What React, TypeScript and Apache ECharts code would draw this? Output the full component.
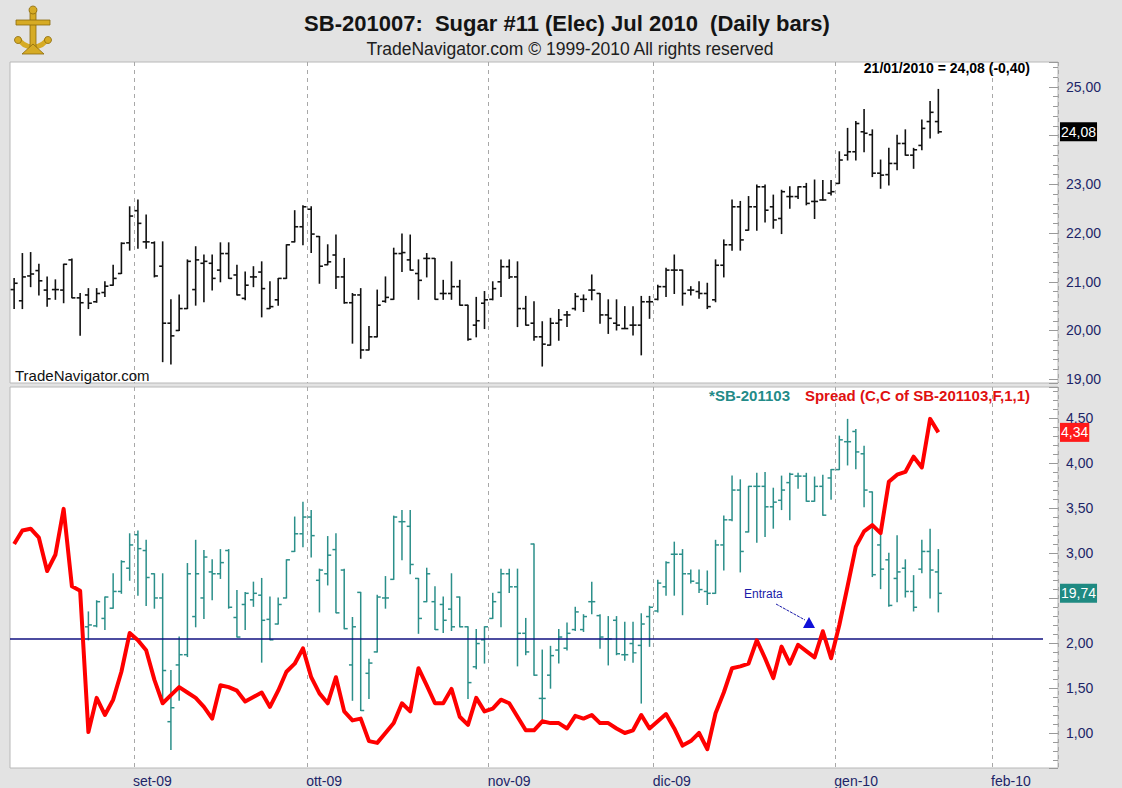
import React, { useEffect, useRef } from "react";
import * as echarts from "echarts";

const FONT = "'Liberation Sans', Arial, sans-serif";

// ---- categories (trading days) ----
const FIRST_DAY = "2009-08-11";
const LAST_DAY = "2010-02-10";
const HOLIDAYS = ["2009-09-07", "2009-11-26", "2009-12-25", "2010-01-01", "2010-01-18"];
const MONTHS_IT = ["gen", "feb", "mar", "apr", "mag", "giu", "lug", "ago", "set", "ott", "nov", "dic"];

function tradingDays(): string[] {
  const out: string[] = [];
  const d = new Date(FIRST_DAY + "T12:00:00Z");
  const end = new Date(LAST_DAY + "T12:00:00Z");
  while (d <= end) {
    const wd = d.getUTCDay();
    const s = d.toISOString().slice(0, 10);
    if (wd !== 0 && wd !== 6 && HOLIDAYS.indexOf(s) < 0) out.push(s);
    d.setUTCDate(d.getUTCDate() + 1);
  }
  return out;
}
const DATES = tradingDays();

// ---- SB-201007 daily bars (index 0 = 11/08/2009) ----
const TOP_O = [20.84,20.61,21.12,21.23,20.83,20.84,20.83,21.45,20.67,20.73,20.59,20.78,20.93,21.17,21.80,22.46,21.82,21.80,21.32,20.15,20.00,20.45,20.84,21.38,21.38,21.24,21.58,21.14,20.66,21.10,21.20,20.45,20.63,21.07,21.82,22.13,22.49,21.93,21.35,21.55,21.10,20.57,20.73,19.60,19.87,20.60,20.64,21.58,21.45,21.17,21.48,21.48,20.76,20.76,20.90,20.52,20.11,20.56,20.64,21.00,21.31,21.10,20.45,20.15,19.87,19.70,20.15,20.32,20.45,20.64,20.83,20.76,20.32,20.15,20.04,20.11,20.11,20.59,20.64,20.90,21.24,21.24,20.83,20.80,20.76,20.63,21.34,21.76,22.54,22.06,22.54,22.95,22.54,22.30,22.75,22.75,22.95,22.65,22.68,22.82,23.02,23.60,23.67,24.08,24.02,23.23,23.20,23.43,23.84,23.60,23.80,24.29,24.29];
const TOP_H = [21.07,21.58,21.60,21.36,21.10,21.04,21.36,21.47,20.76,20.86,20.86,21.00,21.34,21.80,22.54,22.68,22.37,21.82,21.82,20.63,20.73,21.45,21.72,21.55,21.55,21.80,21.80,21.34,21.20,21.31,21.41,21.00,21.07,21.76,22.46,22.56,22.54,21.93,21.76,21.96,21.48,20.76,20.86,20.08,20.83,21.10,21.69,21.98,21.96,21.45,21.58,21.48,21.03,21.41,21.03,20.52,20.68,20.80,21.00,21.45,21.45,21.41,20.70,20.59,20.18,20.25,20.43,20.39,20.76,20.73,21.14,20.76,20.63,20.63,20.49,20.49,20.70,20.70,20.93,21.28,21.55,21.24,20.90,21.00,20.97,21.45,21.86,22.68,22.65,22.75,22.99,22.99,22.78,22.88,22.95,22.95,23.02,23.09,23.08,23.08,23.67,24.15,24.29,24.54,24.12,23.50,23.74,24.01,24.12,23.74,24.32,24.70,24.95];
const TOP_L = [20.45,20.45,20.90,20.73,20.50,20.64,20.57,20.67,19.90,20.45,20.58,20.70,20.93,21.17,21.65,21.69,21.69,21.10,19.36,19.31,20.00,20.45,20.52,20.59,20.83,21.00,21.07,20.73,20.63,20.90,20.28,20.45,20.52,21.07,21.82,21.76,21.60,20.97,21.35,20.86,20.56,19.74,19.43,19.60,19.87,20.58,20.64,21.21,21.24,20.64,21.10,20.64,20.64,20.64,20.52,19.80,19.87,20.04,20.63,20.70,21.07,20.08,20.11,19.80,19.27,19.70,19.80,20.08,20.42,20.39,20.63,20.15,19.94,20.01,20.04,19.91,19.50,20.25,20.63,20.70,20.76,20.52,20.73,20.66,20.45,20.59,21.10,21.65,21.65,22.06,22.06,22.23,22.10,21.99,22.51,22.71,22.58,22.30,22.68,22.78,23.02,23.50,23.50,23.67,23.16,22.92,22.99,23.30,23.60,23.33,23.71,23.95,24.05];
const TOP_C = [20.97,21.10,21.16,21.02,20.65,20.84,21.36,20.67,20.57,20.56,20.76,20.91,21.07,21.79,22.35,22.20,21.82,21.12,20.15,19.89,20.45,21.42,21.45,21.42,21.07,21.58,21.07,20.73,20.93,21.10,20.86,20.49,21.07,21.76,22.13,22.54,21.98,21.32,21.41,21.10,20.57,20.73,19.60,19.87,20.52,20.68,21.58,21.60,21.24,21.03,21.48,20.64,20.76,20.90,20.52,19.82,20.20,20.63,20.86,21.31,21.10,20.45,20.11,19.87,19.72,20.15,20.22,20.32,20.70,20.64,20.83,20.32,20.25,20.11,20.04,20.11,20.59,20.59,20.90,21.24,21.24,20.76,20.83,20.76,20.49,21.34,21.76,22.54,21.86,22.54,22.95,22.47,22.27,22.85,22.75,22.95,22.61,22.65,22.68,22.85,23.50,23.67,24.25,24.05,23.23,23.19,23.43,23.84,23.60,23.71,24.15,24.48,24.08];

// ---- SB-201103 daily bars (start at index 9) ----
const TEAL_START = 9;
const TEAL_O = [19.38,19.39,19.47,19.58,19.76,20.01,20.37,20.20,19.95,19.69,18.36,18.97,19.08,19.49,19.69,19.97,19.95,20.20,19.48,19.62,19.67,19.72,19.46,19.41,19.69,20.19,20.38,20.56,19.88,19.95,20.21,19.99,18.97,19.75,18.88,19.11,19.69,19.89,20.51,20.46,19.90,19.65,19.65,19.62,19.57,19.70,19.38,18.95,19.24,19.47,19.75,19.95,19.81,19.31,20.27,18.61,18.86,19.13,19.15,19.35,19.35,19.65,19.50,19.25,19.45,19.08,19.20,19.18,19.49,19.55,19.81,20.16,20.16,19.95,19.85,19.76,19.74,20.26,20.53,20.85,20.40,20.89,20.89,20.67,20.74,20.93,21.00,21.00,20.73,20.89,20.98,21.07,21.37,21.48,21.24,20.83,20.26,20.10,19.90,20.01,19.76,20.00,20.19,19.97];
const TEAL_H = [19.54,19.66,19.70,19.95,20.09,20.38,20.41,20.31,19.95,19.95,18.91,19.27,20.06,20.31,20.20,20.10,20.21,20.21,19.77,19.75,19.86,19.90,19.70,19.69,20.10,20.56,20.72,20.63,20.00,20.35,20.38,20.00,19.48,19.75,19.03,19.72,19.92,20.57,20.63,20.63,19.90,20.01,19.81,19.70,19.95,19.70,19.38,19.35,19.38,19.74,20.00,20.00,20.00,19.47,20.27,19.13,19.17,19.35,19.42,19.59,19.51,19.86,19.51,19.49,19.49,19.43,19.43,19.52,19.60,19.88,20.08,20.29,20.21,19.99,19.99,19.98,20.31,20.57,21.00,20.96,20.89,21.03,21.04,20.87,21.00,21.03,21.03,21.03,20.99,21.01,21.07,21.43,21.61,21.50,21.32,20.83,20.38,20.17,20.36,20.10,19.93,20.31,20.43,20.21];
const TEAL_L = [19.24,19.38,19.35,19.58,19.74,19.88,19.72,19.61,19.58,18.59,18.06,18.59,19.06,19.38,19.47,19.67,19.90,19.58,19.27,19.35,19.60,19.00,19.24,19.41,19.69,20.19,20.24,20.13,19.54,19.83,19.53,19.36,18.59,18.48,18.61,19.11,19.58,19.89,20.10,19.95,19.31,19.65,19.35,19.32,19.34,19.38,18.61,18.93,18.99,19.47,19.38,19.75,18.96,19.08,18.86,18.36,18.72,18.99,19.13,19.34,19.33,19.52,19.15,18.97,19.08,19.02,19.00,18.56,19.17,19.54,19.72,19.72,19.51,19.85,19.75,19.62,19.74,19.99,20.52,19.97,20.40,20.29,20.35,20.44,20.64,20.53,20.87,20.73,20.73,20.58,20.75,21.07,21.12,21.08,20.67,19.92,19.79,19.60,19.65,19.70,19.55,19.96,19.69,19.54];
const TEAL_C = [19.40,19.65,19.70,19.76,20.08,20.26,20.22,19.91,19.69,18.91,18.51,19.08,19.95,19.95,20.13,19.95,20.07,19.59,19.27,19.74,19.74,19.45,19.24,19.62,20.10,20.38,20.56,20.36,19.99,20.15,19.53,19.36,19.38,18.48,18.99,19.70,19.69,20.56,20.51,20.05,19.47,19.95,19.35,19.45,19.38,19.38,18.78,19.20,19.38,19.65,19.95,19.81,19.31,19.11,18.86,18.61,19.07,19.27,19.31,19.54,19.49,19.65,19.27,19.25,19.09,19.08,19.10,19.41,19.59,19.85,20.07,20.16,19.95,19.87,19.78,19.74,20.26,20.53,20.85,20.19,20.89,20.89,20.67,20.72,20.85,21.02,21.00,20.73,20.89,20.58,21.07,21.39,21.37,21.26,20.85,19.94,20.00,19.61,19.97,19.76,19.59,20.19,19.99,19.74];

// ---- Spread (C - C of SB-201103) ----
const SPREAD = [3.10,3.25,3.27,3.17,2.80,2.98,3.49,2.63,2.58,1.01,1.39,1.20,1.37,1.68,2.11,2.03,1.92,1.59,1.33,1.42,1.51,1.45,1.39,1.29,1.16,1.53,1.51,1.47,1.35,1.40,1.45,1.29,1.47,1.68,1.77,1.94,1.62,1.44,1.33,1.62,1.24,1.14,1.16,0.91,0.89,1.00,1.11,1.33,1.24,1.72,1.53,1.33,1.33,1.49,1.18,1.09,1.39,1.24,1.27,1.37,1.33,1.18,1.03,1.03,1.13,1.11,1.11,1.05,1.19,1.16,1.20,1.11,1.11,1.05,1.00,1.03,1.20,1.05,1.13,1.21,1.05,0.86,0.91,1.00,0.82,1.22,1.45,1.72,1.74,1.77,2.03,1.83,1.61,1.96,1.77,1.98,1.91,1.84,2.13,1.83,2.20,2.63,3.07,3.24,3.31,3.22,3.79,3.87,3.90,4.07,3.95,4.49,4.34];

const ENTRY_LEVEL = 2.044;

const TOP_TICKS_MIN = 18.922;
const TOP_TICKS_MAX = 25.513;
const SPREAD_MIN = 0.611;
const SPREAD_MAX = 4.844;
const TEAL_MIN = 17.862;
const TEAL_MAX = 21.958;

const fmt = (v: number) => v.toFixed(2).replace(".", ",");
const isMonthStart = (i: number) => i > 0 && DATES[i].slice(0, 7) !== DATES[i - 1].slice(0, 7);

const topData = TOP_O.map((o, i) => [i, o, TOP_H[i], TOP_L[i], TOP_C[i]]);
const tealData = TEAL_O.map((o, k) => [k + TEAL_START, o, TEAL_H[k], TEAL_L[k], TEAL_C[k]]);

const LAST_TOP = TOP_C[TOP_C.length - 1];
const LAST_SPREAD = SPREAD[SPREAD.length - 1];
const LAST_TEAL = TEAL_C[TEAL_C.length - 1];

const ohlcRenderer = (color: string, width: number) => (params: any, api: any) => {
  const i = api.value(0);
  const o = api.value(1), h = api.value(2), l = api.value(3), c = api.value(4);
  const ph = api.coord([i, h]);
  const pl = api.coord([i, l]);
  const po = api.coord([i, o]);
  const pc = api.coord([i, c]);
  const t = 3.5;
  const st = { stroke: color, lineWidth: width };
  return {
    type: "group",
    children: [
      { type: "line", shape: { x1: ph[0], y1: ph[1] - 0.5, x2: pl[0], y2: pl[1] + 0.5 }, style: st },
      { type: "line", shape: { x1: po[0] - t, y1: po[1], x2: po[0], y2: po[1] }, style: st },
      { type: "line", shape: { x1: pc[0], y1: pc[1], x2: pc[0] + t, y2: pc[1] }, style: st },
    ],
  };
};

const NAVY = "#1c2568";
const TEAL = "#2b8f8a";

const xAxisBase = (gridIndex: number, showLabels: boolean) => ({
  type: "category",
  gridIndex,
  data: DATES,
  boundaryGap: true,
  axisLine: { show: false },
  axisTick: { show: false },
  axisLabel: {
    show: showLabels,
    interval: (i: number) => isMonthStart(i),
    formatter: (v: string) => MONTHS_IT[+v.slice(5, 7) - 1] + "-" + v.slice(2, 4),
    color: NAVY,
    fontFamily: FONT,
    fontSize: 14,
    align: "left",
    margin: 6,
    padding: [0, 0, 0, -5],
  },
  splitLine: {
    show: true,
    interval: (i: number) => isMonthStart(i),
    lineStyle: { color: "#a8a8a8", type: [4, 4], width: 1 },
  },
});

// labels hidden underneath the last-value boxes
const yAxisRight = (gridIndex: number, min: number, max: number, step: number, covered: number[]) => ({
  type: "value",
  gridIndex,
  position: "right",
  min,
  max,
  splitNumber: Math.round((max - min) / step),
  minInterval: step,
  maxInterval: step,
  scale: true,
  axisLine: { show: false },
  axisTick: { show: true, inside: true, length: 9, lineStyle: { color: "#9a9a9a" } },
  minorTick: { show: true, splitNumber: 5, length: 5, lineStyle: { color: "#9a9a9a" } },
  splitLine: { show: false },
  axisLabel: {
    formatter: (v: number) => (covered.some((c) => Math.abs(c - v) < step * 0.3) ? "" : fmt(v)),
    color: NAVY,
    fontFamily: FONT,
    fontSize: 14,
    margin: 8,
    showMinLabel: false,
    showMaxLabel: false,
  },
});

export default function App() {
  const ref = useRef<HTMLDivElement>(null);
  useEffect(() => {
    document.body.style.margin = "0";
    const chart = echarts.init(ref.current as HTMLDivElement, null, { renderer: "svg" });
    // teal last value expressed on the spread axis scale (box sits over that tick)
    const tealOnSpread =
      SPREAD_MIN + ((LAST_TEAL - TEAL_MIN) / (TEAL_MAX - TEAL_MIN)) * (SPREAD_MAX - SPREAD_MIN);
    const option: any = {
      animation: false,
      backgroundColor: "#e3e3e3",
      textStyle: { fontFamily: FONT },
      grid: [
        { left: 10, top: 62, width: 1048, height: 321, show: true, backgroundColor: "#ffffff", borderColor: "#b8b8b8", borderWidth: 1 },
        { left: 10, top: 387, width: 1048, height: 381, show: true, backgroundColor: "#ffffff", borderColor: "#b8b8b8", borderWidth: 1 },
      ],
      xAxis: [xAxisBase(0, false), xAxisBase(1, true)],
      yAxis: [
        yAxisRight(0, TOP_TICKS_MIN, TOP_TICKS_MAX, 1, [LAST_TOP]),
        yAxisRight(1, SPREAD_MIN, SPREAD_MAX, 0.5, [LAST_SPREAD, tealOnSpread]),
        { type: "value", gridIndex: 1, show: false, min: TEAL_MIN, max: TEAL_MAX, splitLine: { show: false } },
      ],
      series: [
        {
          name: "SB-201007",
          type: "custom",
          xAxisIndex: 0,
          yAxisIndex: 0,
          renderItem: ohlcRenderer("#111111", 1.6),
          encode: { x: 0, y: [1, 2, 3, 4] },
          data: topData,
          z: 3,
        },
        {
          name: "*SB-201103",
          type: "custom",
          xAxisIndex: 1,
          yAxisIndex: 2,
          renderItem: ohlcRenderer(TEAL, 1.5),
          encode: { x: 0, y: [1, 2, 3, 4] },
          data: tealData,
          z: 3,
        },
        {
          name: "Spread",
          type: "line",
          xAxisIndex: 1,
          yAxisIndex: 1,
          data: SPREAD,
          symbol: "none",
          showSymbol: false,
          lineStyle: { color: "#ff0000", width: 4, join: "round" },
          z: 5,
        },
      ],
    };
    chart.setOption(option);

    const yTop = (v: number) => chart.convertToPixel({ yAxisIndex: 0 }, v) as number;
    const ySpread = (v: number) => chart.convertToPixel({ yAxisIndex: 1 }, v) as number;
    const yTeal = (v: number) => chart.convertToPixel({ yAxisIndex: 2 }, v) as number;

    const last = TOP_C.length - 1;
    const lastDate = DATES[last];
    const dateTxt = lastDate.slice(8, 10) + "/" + lastDate.slice(5, 7) + "/" + lastDate.slice(0, 4);
    const change = TOP_C[last] - TOP_C[last - 1];
    const entryY = ySpread(ENTRY_LEVEL);
    const GOLD = "#d6ab25";
    const GOLD_D = "#8a6a0c";

    const graphic: any[] = [
      // logo
      { type: "arc", shape: { cx: 33, cy: 30, r: 17, startAngle: 0.15 * Math.PI, endAngle: 0.85 * Math.PI }, style: { stroke: GOLD, lineWidth: 5, fill: "none" } },
      { type: "rect", shape: { x: 30, y: 10, width: 6, height: 38 }, style: { fill: GOLD, stroke: GOLD_D, lineWidth: 0.8 } },
      { type: "rect", shape: { x: 16, y: 20, width: 34, height: 5 }, style: { fill: GOLD, stroke: GOLD_D, lineWidth: 0.8 } },
      { type: "circle", shape: { cx: 33, cy: 10, r: 4 }, style: { fill: GOLD, stroke: GOLD_D, lineWidth: 0.8 } },
      { type: "polygon", shape: { points: [[22, 54], [33, 44], [44, 54]] }, style: { fill: GOLD, stroke: GOLD_D, lineWidth: 0.8 } },
      { type: "circle", shape: { cx: 18, cy: 40, r: 3.5 }, style: { fill: GOLD, stroke: GOLD_D, lineWidth: 0.8 } },
      { type: "circle", shape: { cx: 48, cy: 40, r: 3.5 }, style: { fill: GOLD, stroke: GOLD_D, lineWidth: 0.8 } },
      // header
      { type: "text", x: 567, y: 23, style: { text: "SB-201007:  Sugar #11 (Elec) Jul 2010  (Daily bars)", font: `bold 22px ${FONT}`, fill: "#141414", align: "center", verticalAlign: "middle" } },
      { type: "text", x: 570, y: 49, style: { text: "TradeNavigator.com © 1999-2010 All rights reserved", font: `17.5px ${FONT}`, fill: "#202020", align: "center", verticalAlign: "middle" } },
      // top panel texts
      { type: "text", x: 1030, y: 68, style: { text: `${dateTxt} = ${fmt(TOP_C[last])} (${fmt(change)})`, font: `bold 14px ${FONT}`, fill: "#000", align: "right", verticalAlign: "middle" } },
      { type: "text", x: 15, y: 375, style: { text: "TradeNavigator.com", font: `15px ${FONT}`, fill: "#111", align: "left", verticalAlign: "middle" } },
      { type: "text", x: 1060, y: yTop(LAST_TOP), z: 10, style: { text: fmt(LAST_TOP), font: `14px ${FONT}`, fill: "#fff", backgroundColor: "#000", padding: [3, 1, 2, 1], align: "left", verticalAlign: "middle" } },
      // bottom panel texts
      { type: "text", x: 790, y: 395, style: { text: "*SB-201103", font: `bold 15px ${FONT}`, fill: "#238b88", align: "right", verticalAlign: "middle" } },
      { type: "text", x: 1030, y: 395, style: { text: "Spread (C,C of SB-201103,F,1,1)", font: `bold 15px ${FONT}`, fill: "#e01010", align: "right", verticalAlign: "middle" } },
      { type: "text", x: 1060, y: ySpread(LAST_SPREAD), z: 10, style: { text: fmt(LAST_SPREAD), font: `14px ${FONT}`, fill: "#fff", backgroundColor: "#ff1a1a", padding: [3, 1, 2, 1], align: "left", verticalAlign: "middle" } },
      { type: "text", x: 1060, y: yTeal(LAST_TEAL), z: 10, style: { text: fmt(LAST_TEAL), font: `14px ${FONT}`, fill: "#fff", backgroundColor: "#1f8a82", padding: [3, 1, 2, 1], align: "left", verticalAlign: "middle" } },
      // entry level line
      { type: "line", z: 4, shape: { x1: 10, y1: entryY, x2: 1043, y2: entryY }, style: { stroke: "#101080", lineWidth: 1.5 } },
      // annotation
      { type: "text", x: 744, y: 594, style: { text: "Entrata", font: `12px ${FONT}`, fill: "#1a1aa8", align: "left", verticalAlign: "middle" } },
      { type: "line", shape: { x1: 776, y1: 604, x2: 805, y2: 620 }, style: { stroke: "#1a1aa8", lineWidth: 1, lineDash: [3, 1] } },
      { type: "polygon", shape: { points: [[809, 617], [803, 628], [815, 628]] }, style: { fill: "#1010d8" } },
    ];
    chart.setOption({ graphic });
    return () => chart.dispose();
  }, []);
  return <div ref={ref} style={{ width: 1122, height: 788 }} />;
}
